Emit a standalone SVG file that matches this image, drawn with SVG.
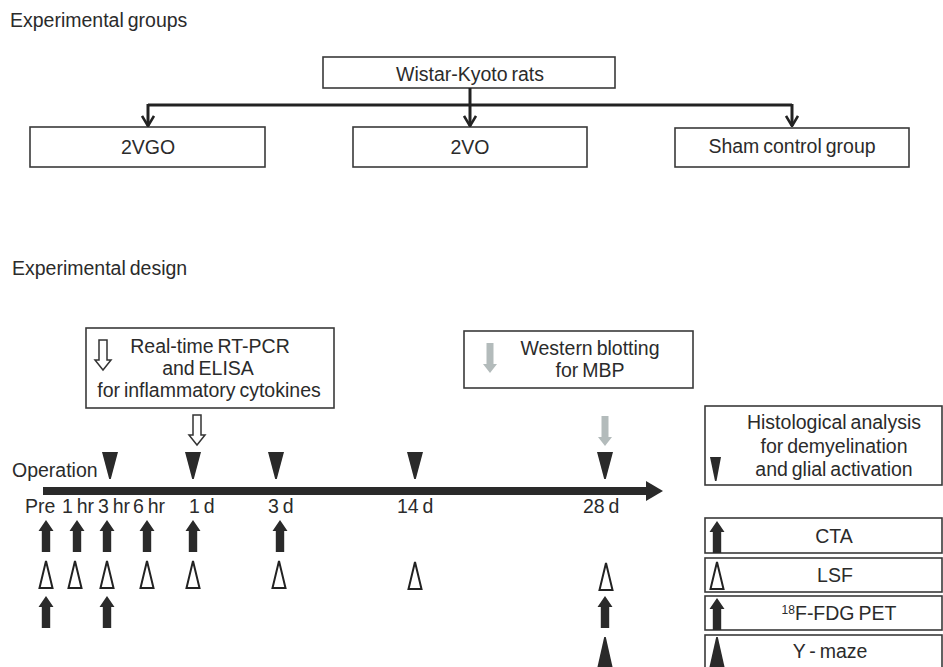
<svg xmlns="http://www.w3.org/2000/svg" xmlns:xlink="http://www.w3.org/1999/xlink" width="943" height="667" viewBox="0 0 943 667">
<style>
text{font-family:"Liberation Sans",Arial,sans-serif;font-size:19.5px;word-spacing:-1.5px;fill:#2b2b2b}
.c{text-anchor:middle}
.box{fill:#fff;stroke:#3a3a3a;stroke-width:1.6}
.conn{fill:none;stroke:#222;stroke-width:3}
</style>
<defs>
<marker id="chev" markerUnits="userSpaceOnUse" viewBox="0 0 12 14" refX="11" refY="7" markerWidth="12" markerHeight="14" orient="auto">
<path d="M1,1 L11,7 L1,13" fill="none" stroke="#222" stroke-width="2.6"/>
</marker>
<path id="upArrow" d="M0,0 L7.5,11 L4.2,11 L4.2,32 L-4.2,32 L-4.2,11 L-7.5,11 Z" fill="#2a2a2a"/>
<path id="openTri" d="M0,1 L6.5,28 L-6.5,28 Z" fill="#fff" stroke="#222" stroke-width="2"/>
<path id="downTri" d="M-8,0 L8,0 L0.8,27 L-0.8,27 Z" fill="#2a2a2a"/>
<path id="upTri" d="M-0.8,0 L0.8,0 L8,32 L-8,32 Z" fill="#2a2a2a"/>
<path id="hollowDown" d="M-4,0 L4,0 L4,20 L8,20 L0,30 L-8,20 L-4,20 Z" fill="#fff" stroke="#333" stroke-width="1.5"/>
<path id="grayDown" d="M-3.5,0 L3.5,0 L3.5,21 L7,21 L0,30 L-7,21 L-3.5,21 Z" fill="#b3bbbb"/>
</defs>
<rect width="943" height="667" fill="#fff"/>

<text x="10" y="27">Experimental groups</text>

<g id="wistar"><rect class="box" x="323" y="57" width="292" height="31"/><text class="c" x="470" y="81">Wistar-Kyoto rats</text></g>
<g id="g2vgo"><rect class="box" x="30" y="127" width="235" height="40"/><text class="c" x="148" y="154">2VGO</text></g>
<g id="g2vo"><rect class="box" x="353" y="127" width="234" height="40"/><text class="c" x="470" y="154">2VO</text></g>
<g id="sham"><rect class="box" x="675" y="128" width="234" height="39"/><text class="c" x="792" y="153">Sham control group</text></g>

<g id="connectors">
<path class="conn" d="M148,105 H792"/>
<path class="conn" d="M470,88 V126" marker-end="url(#chev)"/>
<path class="conn" d="M148,104 V126" marker-end="url(#chev)"/>
<path class="conn" d="M792,104 V126" marker-end="url(#chev)"/>
</g>

<text x="12" y="275">Experimental design</text>

<g id="rtpcr">
<rect class="box" x="86" y="328" width="248" height="80"/>
<use href="#hollowDown" x="103" y="340"/>
<text class="c" x="210" y="353">Real-time RT-PCR</text>
<text class="c" x="208" y="375">and ELISA</text>
<text class="c" x="209" y="397">for inflammatory cytokines</text>
</g>

<g id="western">
<rect class="box" x="464" y="331" width="229" height="57"/>
<use href="#grayDown" x="490" y="343"/>
<text class="c" x="590" y="355">Western blotting</text>
<text class="c" x="590" y="377">for MBP</text>
</g>

<g id="timeline">
<use href="#hollowDown" x="197" y="415"/>
<use href="#grayDown" x="605" y="416"/>
<text x="12" y="477">Operation</text>
<use href="#downTri" x="110" y="452"/>
<use href="#downTri" x="193" y="452"/>
<use href="#downTri" x="276" y="452"/>
<use href="#downTri" x="415" y="452"/>
<use href="#downTri" x="605" y="452"/>
<rect x="43" y="487" width="605" height="8" fill="#2a2a2a"/>
<path d="M646,481 L663,491 L646,501 Z" fill="#2a2a2a"/>
<text x="25" y="513">Pre</text>
<text x="62" y="513">1 hr</text>
<text x="98" y="513">3 hr</text>
<text x="133" y="513">6 hr</text>
<text x="189" y="513">1 d</text>
<text x="268" y="513">3 d</text>
<text x="397" y="513">14 d</text>
<text x="583" y="513">28 d</text>
</g>

<g id="cta-points">
<use href="#upArrow" x="46" y="520"/>
<use href="#upArrow" x="77" y="520"/>
<use href="#upArrow" x="107" y="520"/>
<use href="#upArrow" x="147" y="520"/>
<use href="#upArrow" x="193" y="520"/>
<use href="#upArrow" x="280" y="520"/>
</g>
<g id="lsf-points">
<use href="#openTri" x="46" y="560"/>
<use href="#openTri" x="75" y="560"/>
<use href="#openTri" x="107" y="560"/>
<use href="#openTri" x="147" y="560"/>
<use href="#openTri" x="193" y="560"/>
<use href="#openTri" x="279" y="560"/>
<use href="#openTri" x="415" y="561"/>
<use href="#openTri" x="606" y="562"/>
</g>
<g id="pet-points">
<use href="#upArrow" x="46" y="596"/>
<use href="#upArrow" x="107" y="596"/>
<use href="#upArrow" x="605" y="596"/>
</g>
<g id="ymaze-points">
<use href="#upTri" x="605" y="637"/>
</g>

<g id="legend-histology">
<rect class="box" x="705" y="406" width="237" height="79"/>
<path d="M710,457 L721,457 L716.5,481 L715,481 Z" fill="#2a2a2a"/>
<text class="c" x="834" y="429">Histological analysis</text>
<text class="c" x="834" y="453">for demyelination</text>
<text class="c" x="834" y="476">and glial activation</text>
</g>
<g id="legend-cta">
<rect class="box" x="705" y="518" width="237" height="35"/>
<use href="#upArrow" x="717" y="521"/>
<text class="c" x="834" y="543">CTA</text>
</g>
<g id="legend-lsf">
<rect class="box" x="705" y="558" width="237" height="34"/>
<use href="#openTri" x="717" y="561"/>
<text class="c" x="835" y="582">LSF</text>
</g>
<g id="legend-pet">
<rect class="box" x="705" y="596" width="237" height="34"/>
<use href="#upArrow" x="717" y="598"/>
<text class="c" x="839" y="620"><tspan font-size="12" dy="-6">18</tspan><tspan dy="6">F-FDG PET</tspan></text>
</g>
<g id="legend-ymaze">
<rect class="box" x="705" y="635" width="237" height="40"/>
<use href="#upTri" x="717" y="637"/>
<text class="c" x="830" y="658">Y - maze</text>
</g>
</svg>
